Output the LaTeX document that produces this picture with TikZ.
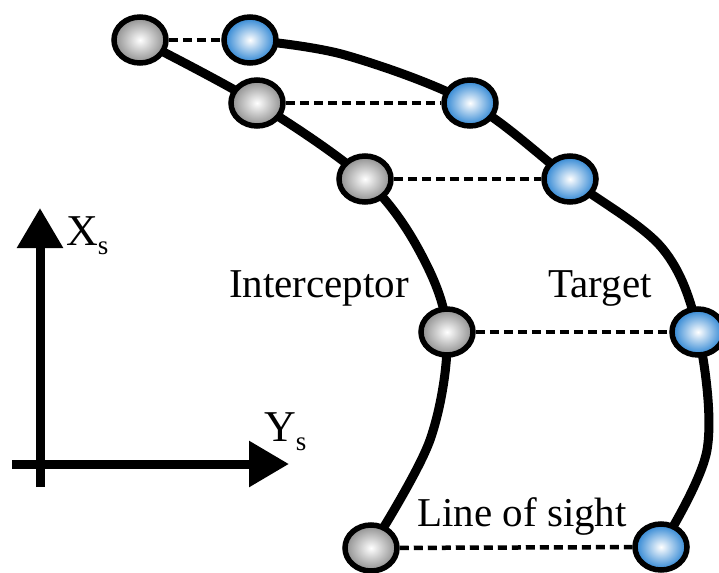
\documentclass[tikz,border=0pt]{standalone}
\usepackage{fontspec}
\setmainfont{Liberation Serif}
\usetikzlibrary{shapes.geometric,arrows.meta,backgrounds}
\definecolor{ballblue}{RGB}{40,130,210}
\definecolor{ballgray}{RGB}{140,140,140}
\begin{document}
\begin{tikzpicture}[x=1pt,y=-1pt,
  ball/.style={ellipse,minimum width=52pt,minimum height=46pt,inner sep=0pt,line width=5.5pt,draw=black},
  gball/.style={ball,inner color=white,outer color=ballgray},
  bball/.style={ball,inner color=white,outer color=ballblue},
  curve/.style={line width=9pt,line cap=round},
  sightline/.style={line width=4.5pt,dash pattern=on 9pt off 5pt},
  axis/.style={line width=9pt,-{Triangle[length=40pt,width=44pt]}},
  lbl/.style={font=\fontsize{41}{48}\selectfont,inner sep=0pt},
  axlbl/.style={font=\fontsize{44}{50}\selectfont,inner sep=0pt,anchor=base west}]
\useasboundingbox (0,0) rectangle (719,572);
% interceptor balls
\node[gball] (I1) at (140,40) {};
\node[gball] (I2) at (257,103) {};
\node[gball] (I3) at (365,179) {};
\node[gball] (I4) at (447,332) {};
\node[gball] (I5) at (371,548) {};
% target balls
\node[bball] (T1) at (250,40) {};
\node[bball] (T2) at (470,103) {};
\node[bball] (T3) at (570,179) {};
\node[bball] (T4) at (698,332) {};
\node[bball] (T5) at (661,547) {};
\coordinate (ia) at (420,252);
\coordinate (ib) at (430,440);
\coordinate (ta) at (345,55);
\coordinate (tb) at (662,248);
\coordinate (tc) at (707,450);
\begin{scope}[on background layer]
\draw[curve] plot[smooth,tension=0.55] coordinates {(I1.center) (I2.center) (I3.center) (ia) (I4.center) (ib) (I5.center)};
\draw[curve] plot[smooth,tension=0.55] coordinates {(T1.center) (ta) (T2.center) (T3.center) (tb) (T4.center) (tc) (T5.center)};
\end{scope}
\draw[sightline] (I1) -- (T1);
\draw[sightline] (I2) -- (T2);
\draw[sightline] (I3) -- (T3);
\draw[sightline] (I4) -- (T4);
\draw[sightline] (I5) -- (T5);
% labels
\node[lbl] (li) at (319,288) {Interceptor};
\node[lbl] (lt) at (600,288) {Target};
\node[lbl] (ll) at (522,516) {Line of sight};
% axes
\coordinate (o1) at (40,487);
\coordinate (xs) at (40,208);
\coordinate (o2) at (12,464);
\coordinate (ys) at (289,464);
\draw[axis] (o1) -- (xs);
\draw[axis] (o2) -- (ys);
\node[axlbl] (xl) at (66,245) {X\raisebox{-9pt}{\fontsize{27}{27}\selectfont s}};
\node[axlbl] (yl) at (264,441) {Y\raisebox{-9pt}{\fontsize{27}{27}\selectfont s}};
\end{tikzpicture}
\end{document}
